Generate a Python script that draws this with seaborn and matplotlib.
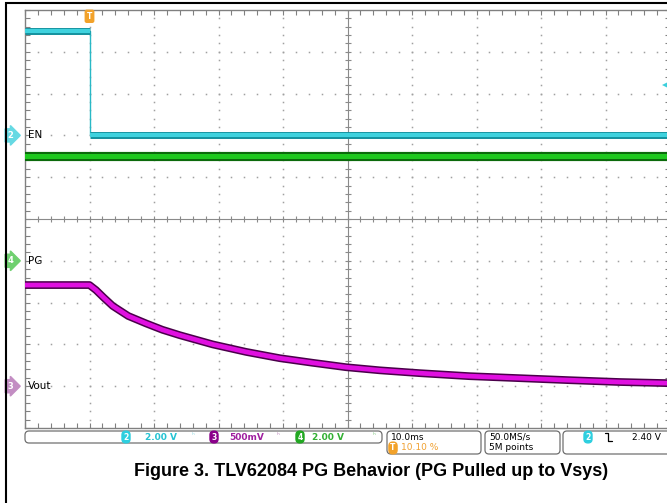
import matplotlib.pyplot as plt
import matplotlib.patches as mpatches
import matplotlib.lines as mlines
from matplotlib.transforms import Affine2D
import seaborn as sns
import numpy as np
import pandas as pd

W, H = 667, 503

# time base (ms), 10 ms/div, trigger at 10.10 % of the screen
t_left, t_right = -10.0, 90.0
t_div = 10.0

# channel setup: volts/div and ground marker position (div from centre)
en_scale, en_pos = 2.0, 2.0      # CH2
vout_scale, vout_pos = 0.5, -4.0  # CH3
pg_scale, pg_pos = 2.0, -1.0      # CH4
trig_level = 2.40                 # CH2 falling edge

# CH2 EN
en_t = [-10.0, 0.0, 0.0, 90.0]
en_v = [5.0, 5.0, 0.0, 0.0]

# CH4 PG
pg_t = [-10.0, 90.0]
pg_v = [5.0, 5.0]

# CH3 Vout
vout_t = [-10.0, 0.0, 1.0, 2.2, 3.6, 6.0, 8.8, 11.3, 14.0, 19.1, 24.3, 29.5,
          34.6, 39.8, 45.0, 51.2, 58.9, 66.7, 74.4, 82.2, 90.0]
vout_v = [1.21, 1.21, 1.15, 1.06, 0.96, 0.84, 0.75, 0.675, 0.61, 0.50, 0.41,
          0.335, 0.28, 0.227, 0.19, 0.156, 0.12, 0.096, 0.072, 0.05, 0.036]

caption = "Figure 3. TLV62084 PG Behavior (PG Pulled up to Vsys)"


def to_div(v, scale, pos):
    return np.asarray(v, dtype=float) / scale + pos


sns.set_theme(style="white")
plt.rcParams['font.family'] = ['DejaVu Sans']
plt.rcParams['text.color'] = 'black'

fig = plt.figure(figsize=(W / 100, H / 100), dpi=100)
fig.patch.set_facecolor('white')
ax = fig.add_axes([25 / W, 1 - 428 / H, 645 / W, 418 / H])
ax.set_xlim(t_left, t_right)
ax.set_ylim(-5, 5)
ax.set_facecolor('white')

grid_c = '#a0a0a0'
minor_x = np.arange(t_left, t_right + 0.01, t_div / 5)
minor_y = np.arange(-5, 5.01, 0.2)

# dotted graticule
for gx in np.arange(t_left + t_div, t_right, t_div):
    if abs(gx - 40) < 1e-6:
        continue
    ax.plot(np.full_like(minor_y, gx), minor_y, ls='none', marker='s', ms=1.1,
            mew=0, color=grid_c, zorder=1)
for gy in np.arange(-4, 5, 1):
    if gy == 0:
        continue
    ax.plot(minor_x, np.full_like(minor_x, gy), ls='none', marker='s', ms=1.1,
            mew=0, color=grid_c, zorder=1)

# centre cross with ticks
ax.plot(minor_x, np.zeros_like(minor_x), color='#8a8a8a', lw=0.8, marker='|',
        ms=4, mew=0.8, zorder=1)
ax.plot(np.full_like(minor_y, 40.0), minor_y, color='#8a8a8a', lw=0.8,
        marker='_', ms=4, mew=0.8, zorder=1)

# frame ticks
for s in ax.spines.values():
    s.set_color('#808080')
    s.set_linewidth(1.0)
ax.set_xticks(minor_x)
ax.set_yticks(minor_y)
ax.tick_params(axis='both', which='major', direction='in', length=3.5,
               width=0.8, color='#808080', top=True, right=True,
               bottom=True, left=True, labelbottom=False, labelleft=False)

# traces
en_y = to_div(en_v, en_scale, en_pos)
pg_y = to_div(pg_v, pg_scale, pg_pos)
vo_y = to_div(vout_v, vout_scale, vout_pos)

# EN: thin edge, thick plateaus
sns.lineplot(x=en_t, y=en_y, estimator=None, sort=False, color='#28b8c6',
             lw=1.0, ax=ax, zorder=3)
for i in range(len(en_t) - 1):
    if en_v[i] == en_v[i + 1]:
        seg_t = en_t[i:i + 2]
        seg_y = en_y[i:i + 2]
        ax.plot(seg_t, seg_y, color='#128f9c', lw=5.0, solid_capstyle='butt', zorder=3)
        ax.plot(seg_t, seg_y, color='#3fd2de', lw=3.0, solid_capstyle='butt', zorder=3)

sns.lineplot(x=pg_t, y=pg_y, estimator=None, sort=False, color='#0b6a0b',
             lw=6.6, ax=ax, zorder=3)
sns.lineplot(x=pg_t, y=pg_y, estimator=None, sort=False, color='#1ec81e',
             lw=3.6, ax=ax, zorder=3)

sns.lineplot(x=vout_t, y=vo_y, estimator=None, sort=False, color='#4a004a',
             lw=5.6, ax=ax, zorder=3)
sns.lineplot(x=vout_t, y=vo_y, estimator=None, sort=False, color='#e010e0',
             lw=3.4, ax=ax, zorder=3)

# trigger level marker (right edge) and trigger position marker (top)
ax.plot([t_right - 0.7], to_div([trig_level], en_scale, en_pos), marker='<',
        ms=5, color='#3ccfdc', mew=0, clip_on=False, zorder=4)
ax.text(0.0, 4.85, 'T', ha='center', va='center', fontsize=5.5,
        fontweight='bold', color='white', zorder=5,
        bbox=dict(boxstyle='round,pad=0.2', fc='#f2a22a', ec='#f2a22a'))

# channel ground markers + labels
markers = [('2', 'EN', en_pos, '#66d9e3'),
           ('4', 'PG', pg_pos, '#6fd06f'),
           ('3', 'Vout', vout_pos, '#c38dc3')]
for num, lab, pos, col in markers:
    ax.text(-12.3, pos, num, ha='center', va='center', fontsize=6,
            color='white', fontweight='bold', clip_on=False, zorder=5,
            bbox=dict(boxstyle='rarrow,pad=0.25', fc=col, ec=col))
    ax.text(-9.6, pos, lab, ha='left', va='center', fontsize=7.5,
            color='black', zorder=5)

# pixel coordinates for the status bar (y from top)
pix = Affine2D().scale(1, -1).translate(0, H)


def box(x0, y0, x1, y1):
    p = mpatches.FancyBboxPatch((x0, y0), x1 - x0, y1 - y0,
                                boxstyle='round,pad=0,rounding_size=4',
                                fc='white', ec='#707070', lw=0.9,
                                transform=pix, clip_on=False)
    fig.add_artist(p)


def txt(x, y, s, c='black', size=6.5, **kw):
    fig.text(x, y, s, color=c, fontsize=size, va='center', transform=pix, **kw)


def badge(x, y, s, fc):
    fig.text(x, y, s, color='white', fontsize=5.5, fontweight='bold',
             ha='center', va='center', transform=pix,
             bbox=dict(boxstyle='round,pad=0.18,rounding_size=0.5', fc=fc, ec=fc))


box(25, 431, 382, 443)
badge(126, 437, '2', '#2ecfdf')
txt(145, 437, '2.00 V', '#25c3d3', fontweight='bold')
txt(192, 436, 'ʰ', '#9adbe3', size=5)
badge(214, 437, '3', '#8a008a')
txt(229, 437, '500mV', '#a020a0', fontweight='bold')
txt(277, 436, 'ʰ', '#c08cc0', size=5)
badge(300, 437, '4', '#22a822')
txt(312, 437, '2.00 V', '#33b033', fontweight='bold')
txt(373, 436, 'ʰ', '#88cc88', size=5)

box(387, 431, 481, 454)
txt(391, 437, '10.0ms')
badge(393, 448, 'T', '#f2a22a')
txt(401, 448, '10.10 %', '#f0a030')

box(485, 431, 560, 454)
txt(489, 437, '50.0MS/s')
txt(489, 448, '5M points')

box(563, 431, 680, 454)
badge(588, 437, '2', '#2ecfdf')
fig.add_artist(mlines.Line2D([605, 608, 608, 612], [H - 433, H - 433, H - 441, H - 441],
                             color='black', lw=0.9, transform=None))
txt(632, 437, '2.40 V')

# outer page frame
fig.add_artist(mpatches.Rectangle((6, -10), 700, H - 3 + 10, transform=None,
                                  fill=False, ec='black', lw=1.5, clip_on=False))

fig.text(371 / W, 1 - 471 / H, caption, ha='center', va='center',
         fontsize=13, fontweight='bold', family='Liberation Sans', color='black')

fig.savefig('out.png', dpi=100)
